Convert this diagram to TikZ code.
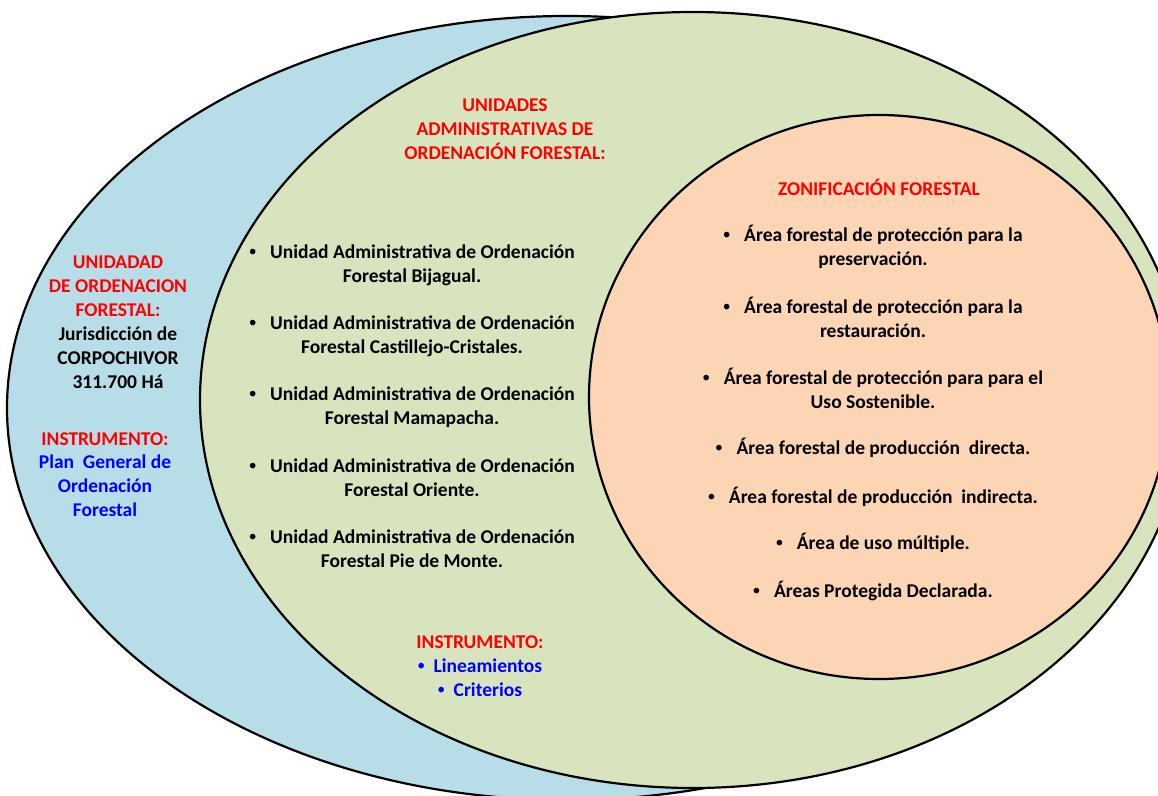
\documentclass[tikz,border=0pt]{standalone}
\usepackage{fontspec}
\setmainfont{Carlito}
\newfontfamily\bulletfont{Liberation Sans}
\usetikzlibrary{positioning}
\definecolor{blueFill}{HTML}{B7DDE8}
\definecolor{greenFill}{HTML}{D7E4BD}
\definecolor{orangeFill}{HTML}{FCD5B5}
\newcommand{\bul}{{\bulletfont •}}
\newcommand{\itm}{\bul\hspace{14pt}}

\begin{document}
\begin{tikzpicture}[x=1pt, y=-1pt,
    txt/.style={font=\fontsize{19.5}{23.8}\selectfont\bfseries, align=center, inner sep=0pt},
    redtxt/.style={txt, text=red},
    bluetxt/.style={txt, text=blue},
    zone/.style={draw=black, line width=2.2pt}]
    \useasboundingbox (0,0) rectangle (1158,795);
    \clip (0,0) rectangle (1158,795);

    \filldraw[zone, fill=blueFill] (567,408) ellipse [x radius=560pt, y radius=392pt];
    \filldraw[zone, fill=greenFill] (693,400) ellipse [x radius=493pt, y radius=388pt];
    \filldraw[zone, fill=orangeFill] (879,397) ellipse [x radius=290pt, y radius=282pt];

    % unidad de ordenacion
    \node[redtxt] (uofTitle) at (118,286.5) {UNIDADAD\\DE ORDENACION\\FORESTAL:};
    \node[txt, below of=uofTitle, node distance=71pt] (uofText) {Jurisdicción de\\CORPOCHIVOR\\311.700 Há};
    \node[redtxt] (uofInstr) at (105,439) {INSTRUMENTO:};
    \node[bluetxt, below of=uofInstr, node distance=47pt] (uofPlan) {Plan\ \ General de\\Ordenación\\Forestal};

    % unidades administrativas
    \node[redtxt] (uaofTitle) at (505,129) {UNIDADES\\ADMINISTRATIVAS DE\\ORDENACIÓN FORESTAL:};
    \foreach \name [count=\i] in {Bijagual., Castillejo-Cristales., Mamapacha., Oriente., Pie de Monte.}
        \node[txt] (uaof\i) at (412,194+71*\i) {\itm Unidad Administrativa de Ordenación\\Forestal \name};
    \node[redtxt] (uaofInstr) at (480,642) {INSTRUMENTO:};
    \node[bluetxt, below of=uaofInstr, node distance=36pt] (uaofTools) {\bul\hspace{9pt}Lineamientos\\\bul\hspace{9pt}Criterios};

    % zonificacion
    \node[redtxt] (zfTitle) at (879,187) {ZONIFICACIÓN FORESTAL};
    \foreach \yy/\zona [count=\i] in {246.5/{Área forestal de protección para la\\preservación.},
        317.5/{Área forestal de protección para la\\restauración.},
        388.5/{Área forestal de protección para para el\\Uso Sostenible.},
        448/{Área forestal de producción\ \ directa.},
        497/{Área forestal de producción\ \ indirecta.},
        543/{Área de uso múltiple.},
        591/{Áreas Protegida Declarada.}}
        \node[txt] (zf\i) at (873,\yy) {\itm \zona};
\end{tikzpicture}
\end{document}
